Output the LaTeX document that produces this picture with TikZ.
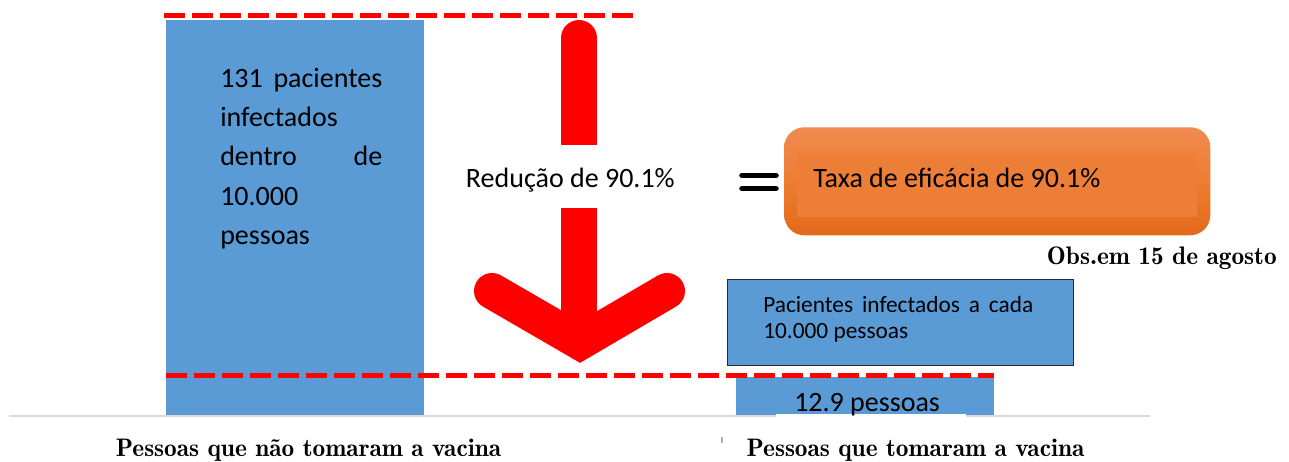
\documentclass[tikz,border=0pt]{standalone}
\usepackage{fontspec}
\newfontfamily\carl{Carlito}
\newfontfamily\centfont{lmromandemi10-regular.otf}
\definecolor{barblue}{HTML}{5B9BD5}
\definecolor{axisgray}{HTML}{D9D9D9}
\definecolor{orangetop}{HTML}{F08B50}
\definecolor{orangemid}{HTML}{ED7D31}
\definecolor{orangebot}{HTML}{E3691A}
\definecolor{orangeband}{HTML}{EC7E37}
\definecolor{calloutborder}{HTML}{2B2B2B}
\begin{document}
\begin{tikzpicture}[x=0.75pt,y=-0.75pt,
  bar/.style={fill=barblue, draw=none, inner sep=0pt, outer sep=0pt, anchor=north west},
  reddash/.style={draw=red, line width=4pt, dash pattern=on 15.5pt off 5.5pt},
  arrowstroke/.style={draw=red, line width=27pt},
  caltext/.style={font=\carl\fontsize{21}{25}\selectfont, inner sep=0pt},
  seriftext/.style={font=\centfont\fontsize{19}{23}\selectfont, inner sep=0pt},
]
\useasboundingbox (0,0) rectangle (1289,461);

% axis line
\coordinate (axisL) at (9,416);
\coordinate (axisR) at (1150,416);
\draw[draw=axisgray, line width=1.5pt] (axisL) -- (axisR);

% bars
\node[bar, minimum width=193.5pt, minimum height=296.25pt] (leftbar) at (166,20) {};
\node[bar, minimum width=193.5pt, minimum height=28.5pt] (rightbar) at (736,377) {};
\fill[white] (776,414.2) rectangle (966,420);

% dashed reference lines
\coordinate (topdashL) at (164,15.5);
\coordinate (topdashR) at (633,15.5);
\coordinate (botdashL) at (166,375.5);
\coordinate (botdashR) at (994,375.5);
\draw[reddash] (topdashL) -- (topdashR);
\draw[reddash] (botdashL) -- (botdashR);

% big red arrow
\coordinate (shaftTop) at (579,38);
\coordinate (shaftBot) at (579,330);
\coordinate (headL) at (492,291);
\coordinate (headV) at (580,342);
\coordinate (headR) at (667,291);
\draw[arrowstroke, line cap=round] (shaftTop) -- (shaftBot);
\draw[arrowstroke, line cap=round, line join=miter] (headL) -- (headV) -- (headR);

\node[caltext, fill=white, anchor=base west, text height=31.5pt, text depth=15.75pt, inner xsep=2pt] (reduction) at (463,187) {Redução de 90.1\%};

% left bar text
\node[caltext, anchor=base west] (novactxt) at (220,87)
  {\parbox[t]{121.5pt}{\fontsize{21}{29.6}\selectfont
   \makebox[121.5pt][s]{131 pacientes}\\infectados\\\makebox[121.5pt][s]{dentro de}\\10.000\\pessoas}};

% equals sign
\coordinate (eqAL) at (742,175.5);
\coordinate (eqAR) at (776,175.5);
\coordinate (eqBL) at (742,188.5);
\coordinate (eqBR) at (776,188.5);
\draw[black, line width=4.2pt, line cap=round] (eqAL) -- (eqAR);
\draw[black, line width=4.2pt, line cap=round] (eqBL) -- (eqBR);

% efficacy box
\node[draw=none, rounded corners=15pt, top color=orangetop, bottom color=orangebot, middle color=orangemid,
      minimum width=319.5pt, minimum height=81pt, anchor=north west, inner sep=0pt] (effbox) at (784,127) {};
\node[fill=orangeband, draw=none, minimum width=300pt, minimum height=48pt, anchor=north west, inner sep=0pt] (effband) at (797,153) {};
\node[caltext, anchor=base west] (efftxt) at (813,187) {Taxa de eficácia de 90.1\%};

\node[seriftext, anchor=base east] (obs) at (1277,264) {Obs.em 15 de agosto};

% callout
\node[draw=calloutborder, line width=1.1pt, fill=barblue, minimum width=259.5pt, minimum height=64.5pt,
      anchor=north west, inner sep=0pt] (callout) at (726.5,278.5) {};
\node[anchor=base west, inner sep=0pt, font=\carl\fontsize{17.5}{19.5}\selectfont] (callouttxt) at (763,312)
  {\parbox[t]{202.5pt}{\makebox[202.5pt][s]{Pacientes infectados a cada}\\10.000 pessoas}};

% value in right bar
\node[caltext, anchor=base west] (vacnum) at (794,411) {12.9 pessoas};

% bottom labels
\node[seriftext, anchor=base] (lblno) at (308.5,456) {Pessoas que não tomaram a vacina};
\node[seriftext, anchor=base] (lblyes) at (915.5,456) {Pessoas que tomaram a vacina};
\coordinate (tickA) at (722,437);
\coordinate (tickB) at (722,443);
\draw[gray!60, line width=1.2pt] (tickA) -- (tickB);
\end{tikzpicture}
\end{document}
